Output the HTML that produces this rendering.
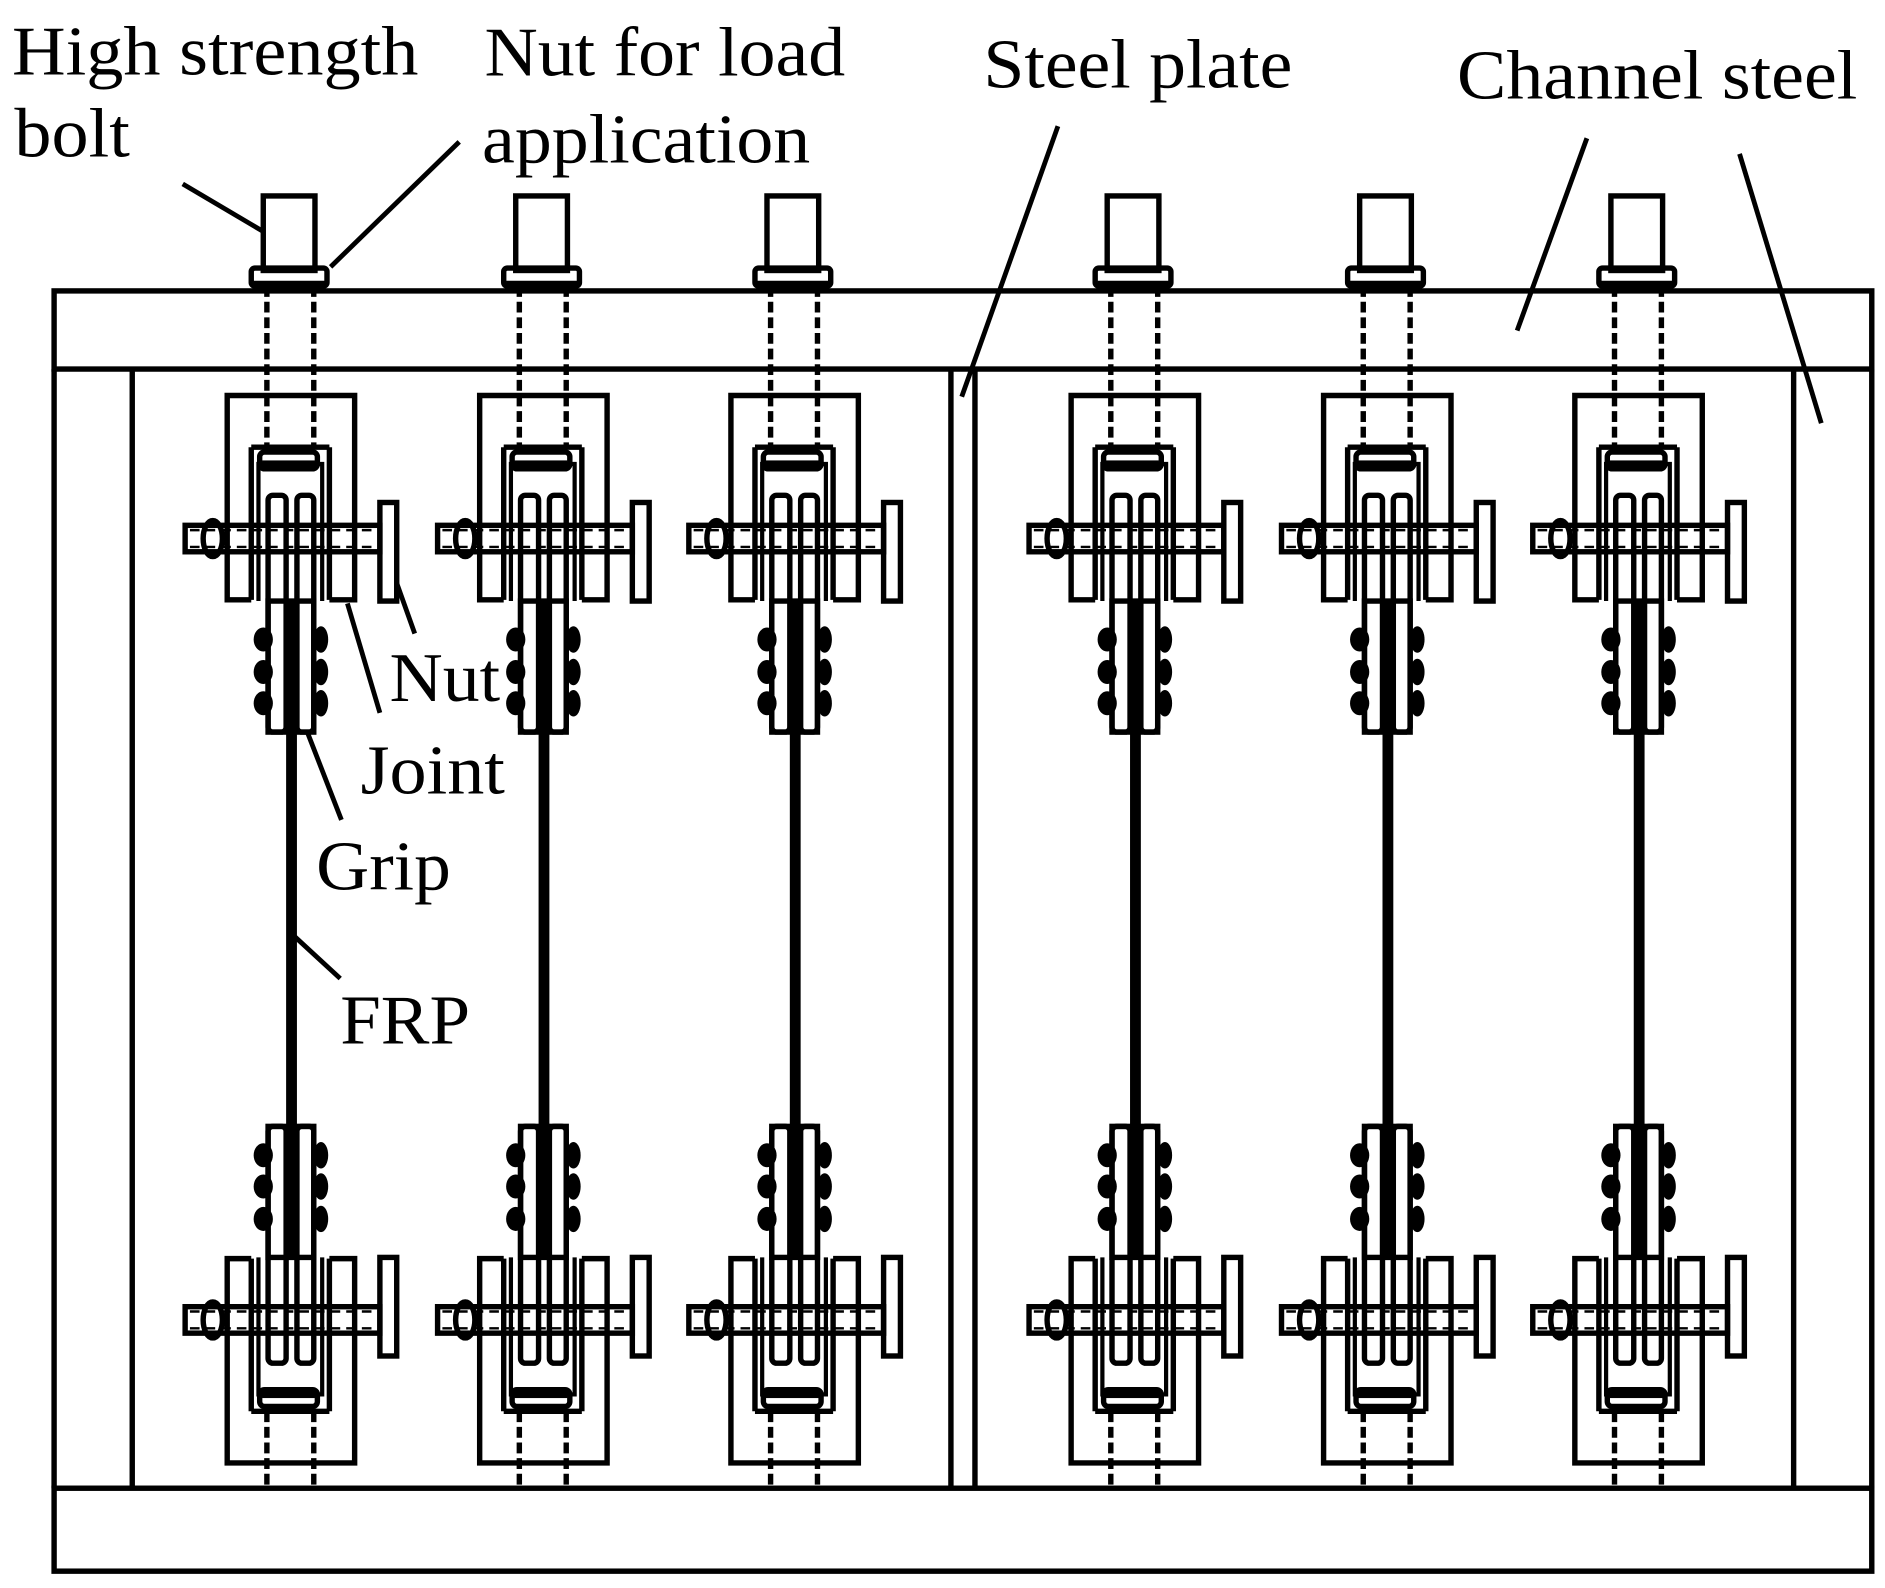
<!DOCTYPE html>
<html><head><meta charset="utf-8"><style>
html,body{margin:0;padding:0;background:#fff}
svg{display:block}
text{font-family:"Liberation Serif",serif;fill:#000}
</style></head><body>
<svg width="1885" height="1588" viewBox="0 0 1568 1321" preserveAspectRatio="none" xmlns="http://www.w3.org/2000/svg">
<defs>
<g id="half" fill="none" stroke="#000" stroke-width="4.5">
  <path d="M209,499 H189 V329 H295 V499 H274"/>
  <line x1="209" y1="372" x2="209" y2="499"/>
  <line x1="274" y1="372" x2="274" y2="499"/>
  <line x1="209" y1="372" x2="274" y2="372"/>
  <path d="M215,500 V386 H268 V500" stroke-width="3.5"/>
  <rect x="216" y="376" width="48" height="14" rx="4"/>
  <rect x="218" y="383" width="44" height="8" fill="#000" stroke="none"/>
  <rect x="223" y="412" width="15" height="197" rx="4"/>
  <rect x="247" y="412" width="14" height="197" rx="4"/>
  <rect x="223" y="500" width="38" height="109"/>
  <rect x="237" y="498" width="11" height="110" fill="#000" stroke="none"/>
  <rect x="154" y="437" width="162" height="22"/>
  <line x1="158" y1="441" x2="316" y2="441" stroke-width="2" stroke-dasharray="8,5"/>
  <line x1="158" y1="455" x2="316" y2="455" stroke-width="2" stroke-dasharray="8,5"/>
  <rect x="316" y="418" width="14" height="82"/>
  <ellipse cx="177" cy="448" rx="8" ry="15"/>
  <g fill="#000" stroke="none">
    <ellipse cx="219" cy="532" rx="8" ry="10"/><ellipse cx="219" cy="559" rx="8" ry="10"/><ellipse cx="219" cy="585" rx="8" ry="10"/>
    <ellipse cx="267" cy="532" rx="6" ry="11"/><ellipse cx="267" cy="559" rx="6" ry="11"/><ellipse cx="267" cy="585" rx="6" ry="11"/>
  </g>
</g>
<g id="spec">
  <use href="#half"/>
  <use href="#half" transform="translate(0,1546) scale(1,-1)"/>
  <g fill="none" stroke="#000" stroke-width="4.5">
    <rect x="219" y="163" width="43" height="62"/>
    <rect x="209" y="223" width="63" height="15" rx="3"/>
    <line x1="211" y1="236" x2="270" y2="236" stroke-width="5"/>
    <line x1="222" y1="238" x2="222" y2="372" stroke-dasharray="9,4"/>
    <line x1="261" y1="238" x2="261" y2="372" stroke-dasharray="9,4"/>
    <line x1="222" y1="1174" x2="222" y2="1238" stroke-dasharray="9,4"/>
    <line x1="261" y1="1174" x2="261" y2="1238" stroke-dasharray="9,4"/>
  </g>
  <rect x="238" y="608" width="9" height="330" fill="#000"/>
</g>
</defs>

<g fill="none" stroke="#000" stroke-width="4.5">
  <rect x="45" y="242" width="1512" height="65"/>
  <rect x="45" y="1238" width="1512" height="69"/>
  <line x1="45" y1="307" x2="45" y2="1238"/>
  <line x1="110" y1="307" x2="110" y2="1238"/>
  <line x1="1492" y1="307" x2="1492" y2="1238"/>
  <line x1="1557" y1="307" x2="1557" y2="1238"/>
  <line x1="791" y1="307" x2="791" y2="1238"/>
  <line x1="811" y1="307" x2="811" y2="1238"/>
</g>

<use href="#spec"/>
<use href="#spec" x="210"/>
<use href="#spec" x="419"/>
<use href="#spec" x="702"/>
<use href="#spec" x="912"/>
<use href="#spec" x="1121"/>

<g stroke="#000" stroke-width="4" fill="none">
  <line x1="152" y1="153" x2="218" y2="192"/>
  <line x1="382" y1="118" x2="275" y2="222"/>
  <line x1="880" y1="105" x2="800" y2="330"/>
  <line x1="1320" y1="115" x2="1262" y2="275"/>
  <line x1="1447" y1="128" x2="1515" y2="352"/>
  <line x1="330" y1="485" x2="345" y2="527"/>
  <line x1="289" y1="502" x2="316" y2="593"/>
  <line x1="256" y1="610" x2="284" y2="682"/>
  <line x1="245" y1="779" x2="283" y2="814"/>
</g>

<g font-size="58">
  <text x="10" y="62" textLength="338" lengthAdjust="spacingAndGlyphs">High strength</text>
  <text x="12" y="130" textLength="96" lengthAdjust="spacingAndGlyphs">bolt</text>
  <text x="403" y="63" textLength="300" lengthAdjust="spacingAndGlyphs">Nut for load</text>
  <text x="401" y="135" textLength="273" lengthAdjust="spacingAndGlyphs">application</text>
  <text x="818" y="73" textLength="257" lengthAdjust="spacingAndGlyphs">Steel plate</text>
  <text x="1212" y="82" textLength="333" lengthAdjust="spacingAndGlyphs">Channel steel</text>
  <text x="324" y="583" textLength="92" lengthAdjust="spacingAndGlyphs">Nut</text>
  <text x="300" y="660" textLength="120" lengthAdjust="spacingAndGlyphs">Joint</text>
  <text x="263" y="740" textLength="112" lengthAdjust="spacingAndGlyphs">Grip</text>
  <text x="283" y="868" textLength="108" lengthAdjust="spacingAndGlyphs">FRP</text>
</g>
</svg>
</body></html>
